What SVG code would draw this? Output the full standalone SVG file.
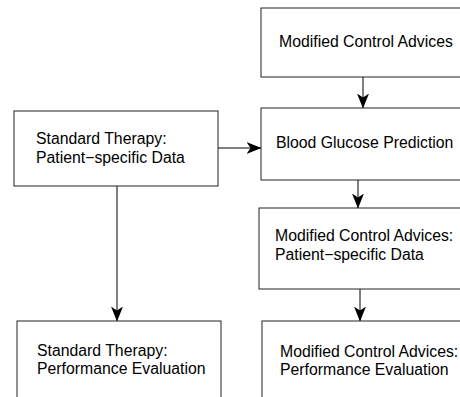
<svg xmlns="http://www.w3.org/2000/svg" width="460" height="397" viewBox="0 0 460 397">
<defs>
<marker id="ah" markerWidth="15" markerHeight="12" viewBox="0 0 15 12" refX="14.5" refY="6" orient="auto" markerUnits="userSpaceOnUse">
<path d="M0,0 L15,6 L0,12 L4,6 Z" fill="#000"/>
</marker>
<style>
.box{fill:#fff;stroke:#222;stroke-width:1}
.t{font-family:"Liberation Sans",Arial,sans-serif;font-size:15.8px;fill:#000}
.c{stroke:#000;stroke-width:1;fill:none;marker-end:url(#ah)}
</style>
</defs>
<rect width="460" height="397" fill="#fff"/>
<g id="connectors">
<line class="c" x1="363" y1="77" x2="363" y2="108"/>
<line class="c" x1="218" y1="148" x2="261" y2="148"/>
<line class="c" x1="358" y1="180" x2="358" y2="208"/>
<line class="c" x1="117" y1="186" x2="117" y2="321"/>
<line class="c" x1="360" y1="289" x2="360" y2="321"/>
</g>
<g id="n1">
<rect class="box" x="261" y="8" width="220" height="69"/>
<text class="t" x="279" y="47">Modified Control Advices</text>
</g>
<g id="n2">
<rect class="box" x="261" y="108" width="220" height="72"/>
<text class="t" x="276" y="148">Blood Glucose Prediction</text>
</g>
<g id="n3">
<rect class="box" x="14" y="111" width="204" height="75"/>
<text class="t" x="36" y="144">Standard Therapy:</text>
<text class="t" x="36" y="163">Patient−specific Data</text>
</g>
<g id="n4">
<rect class="box" x="259" y="208" width="220" height="81"/>
<text class="t" x="275" y="241">Modified Control Advices:</text>
<text class="t" x="275" y="260">Patient−specific Data</text>
</g>
<g id="n5">
<rect class="box" x="17" y="321" width="204" height="90"/>
<text class="t" x="37" y="356">Standard Therapy:</text>
<text class="t" x="37" y="374">Performance Evaluation</text>
</g>
<g id="n6">
<rect class="box" x="262" y="321" width="220" height="90"/>
<text class="t" x="280" y="357">Modified Control Advices:</text>
<text class="t" x="280" y="375">Performance Evaluation</text>
</g>
</svg>
